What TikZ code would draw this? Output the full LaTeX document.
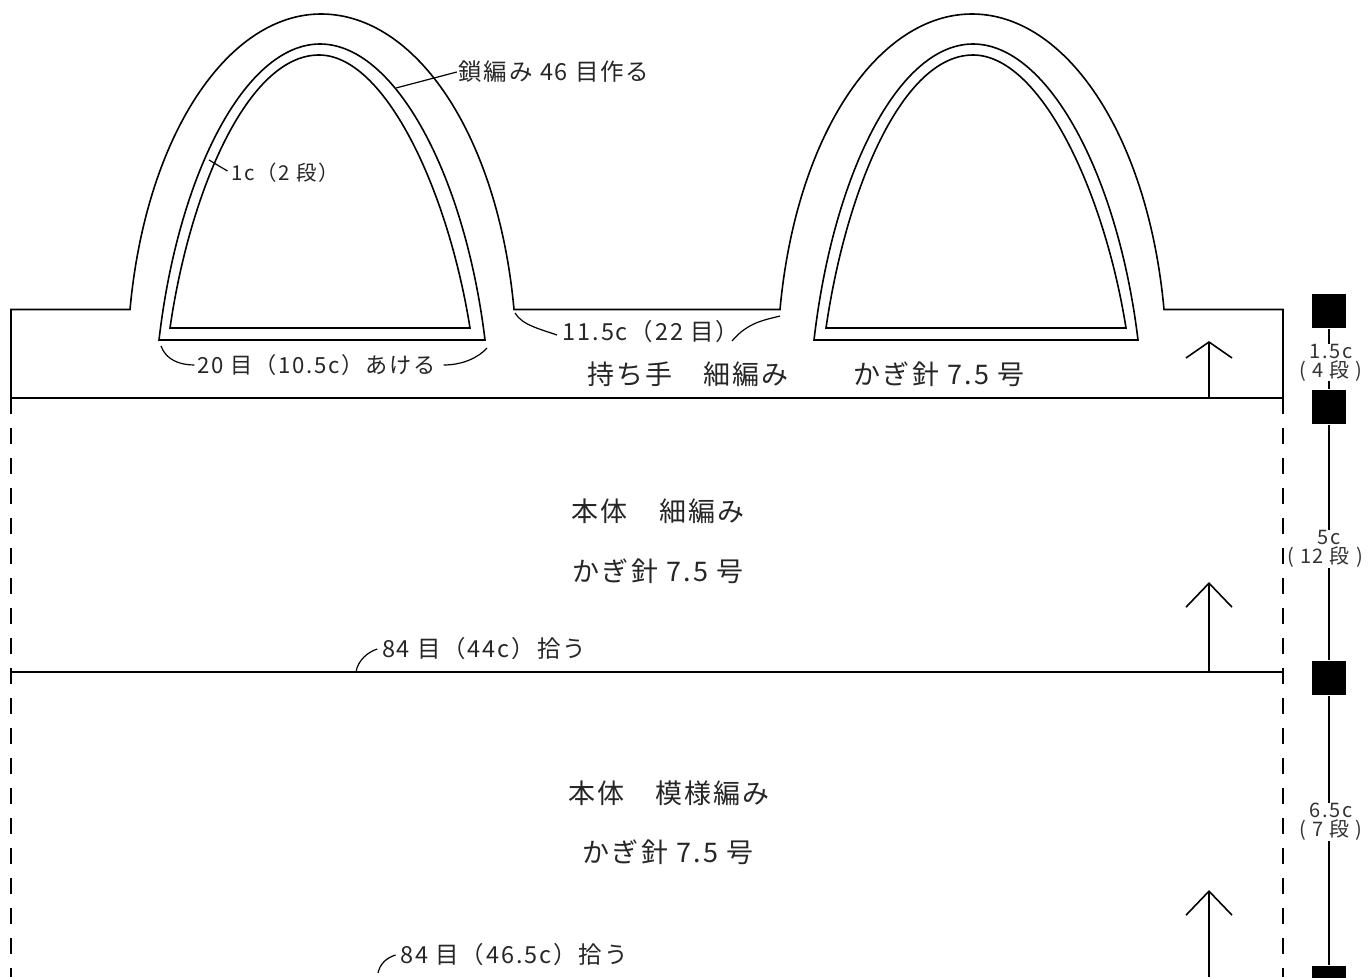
\documentclass[tikz,border=0pt]{standalone}
\usepackage{fontspec}
\usetikzlibrary{arrows.meta}
\newfontfamily\jpfont[LetterSpace=8]{Noto Sans CJK JP}
\tikzset{
  big/.style={font=\jpfont\fontsize{27}{29}\selectfont, inner sep=0pt, text=black!85},
  mid/.style={font=\jpfont\fontsize{23.5}{26}\selectfont, inner sep=0pt, text=black!85},
  small/.style={font=\jpfont\fontsize{20.5}{24}\selectfont, inner sep=0pt, text=black!85},
  side/.style={font=\jpfont\fontsize{20}{19}\selectfont, inner sep=0pt, fill=white, align=center, text=black!80},
  mark box/.style={fill=black, minimum size=34pt, inner sep=0pt},
  up/.style={-{Straight Barb[length=#1, width=46pt]}},
}
\begin{document}
\begin{tikzpicture}[x=1pt, y=-1pt, line width=1.6pt]
\useasboundingbox (0,0) rectangle (1370,977);
% Handle outline with both arches
\draw (11,398) -- (11,309.5) -- (130,309.5)
  .. controls (146,135) and (228,14) .. (321,14)
  .. controls (416,14) and (498,135) .. (514,309.5)
  -- (780,309.5)
  .. controls (796,135) and (878,14) .. (972,14)
  .. controls (1066,14) and (1148,135) .. (1164,309.5)
  -- (1283,309.5) -- (1283,398);
% Left opening
\draw (159,340) .. controls (178,175) and (245,44) .. (320,44)
  .. controls (395,44) and (465,175) .. (485,340) -- cycle;
\draw (170,328) .. controls (190,190) and (248,55) .. (319,55)
  .. controls (385,55) and (448,190) .. (470,328) -- cycle;
% Right opening
\draw (814,340) .. controls (833,175) and (898,44) .. (973,44)
  .. controls (1048,44) and (1118,175) .. (1138,340) -- cycle;
\draw (826,328) .. controls (846,190) and (902,55) .. (973,55)
  .. controls (1040,55) and (1104,190) .. (1126,328) -- cycle;
% Body lines
\draw (11,398) -- (1283,398);
\draw (11,672) -- (1283,672);
\draw[dash pattern=on 16pt off 14pt] (11,398) -- (11,977);
\draw[dash pattern=on 16pt off 14pt] (1283,398) -- (1283,977);
% Direction arrows
\draw[up=16pt] (1209,398) -- (1209,341);
\draw[up=24pt] (1209,672) -- (1209,582);
\draw[up=24pt] (1209,977) -- (1209,890);
% Gauge on the right
\node[mark box] (m1) at (1329,311) {};
\node[mark box] (m2) at (1329,407) {};
\node[mark box] (m3) at (1329,678) {};
\node[mark box] (m4) at (1329,983) {};
\draw (m1) -- (m2);
\draw (m2) -- (m3);
\draw (m3) -- (m4);
\node[side] (g1) at (1331,362.5) {1.5c\\( 4 段 )};
\node[side] (g2) at (1325,549) {\hspace*{8pt}5c\\( 12 段 )};
\node[side] (g3) at (1331,822) {6.5c\\( 7 段 )};
% Labels
\node[mid] (chain) at (554,72) {鎖編み 46 目作る};
\node[small] (edge) at (285,173) {1c（2 段）};
\node[font=\jpfont\fontsize{22.2}{24}\selectfont, inner sep=0pt, text=black!85] (open) at (316.5,365) {20 目（10.5c）あける};
\node[mid] (gap) at (651,332) {11.5c（22 目）};
\node[big] (h1) at (688,374) {持ち手　細編み};
\node[big] (h2) at (939,374) {かぎ針 7.5 号};
\node[big] (b1) at (658,511) {本体　細編み};
\node[big] (b2) at (658,571) {かぎ針 7.5 号};
\node[mid] (pick1) at (484,649) {84 目（44c）拾う};
\node[big] (p1) at (669,793) {本体　模様編み};
\node[big] (p2) at (668,852) {かぎ針 7.5 号};
\node[mid] (pick2) at (514,955) {84 目（46.5c）拾う};
% Leaders
\coordinate (c1) at (396,88);
\coordinate (c2) at (209,160);
\coordinate (c3) at (161,346);
\coordinate (c4) at (487,348);
\coordinate (c5) at (515,313);
\coordinate (c6) at (780,316);
\coordinate (c7) at (356,672);
\coordinate (c8) at (378,973);
\draw[line width=1.2pt] (c1) -- ([xshift=-1pt]chain.west);
\draw[line width=1.2pt] (c2) -- ([xshift=-3pt,yshift=2pt]edge.west);
\draw[line width=1.2pt] (c3) .. controls (166,360) and (180,365) .. ([xshift=-2pt]open.west);
\draw[line width=1.2pt] (c4) .. controls (478,358) and (462,365) .. ([xshift=7pt]open.east);
\draw[line width=1.2pt] (c5) .. controls (522,325) and (540,329) .. ([xshift=-5pt,yshift=-3pt]gap.west);
\draw[line width=1.2pt] (c6) .. controls (765,320) and (748,322) .. ([xshift=-8pt,yshift=-9pt]gap.east);
\draw[line width=1.2pt] (c7) .. controls (358,660) and (368,652) .. ([xshift=-4pt]pick1.west);
\draw[line width=1.2pt] (c8) .. controls (380,964) and (386,958) .. ([xshift=-4pt]pick2.west);
\end{tikzpicture}
\end{document}
